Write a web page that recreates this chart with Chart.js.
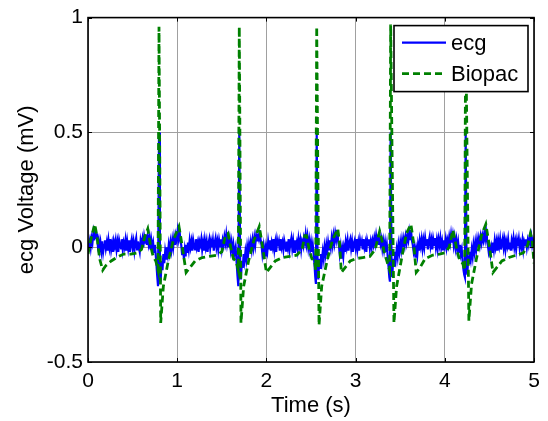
<!DOCTYPE html>
<html><head><meta charset="utf-8">
<script src="https://cdn.jsdelivr.net/npm/chart.js@4/dist/chart.umd.min.js"></script>
<style>html,body{margin:0;padding:0;background:#fff}#wrap{width:548px;height:421px}</style>
</head><body><div id="wrap"><canvas id="c" width="548" height="421"></canvas></div>
<script>
const xTicks = [0, 1, 2, 3, 4, 5];
const yTicks = [-0.5, 0, 0.5, 1];
const seriesLabels = ['ecg', 'Biopac'];
const xTitle = 'Time (s)';
const yTitle = 'ecg Voltage (mV)';

// ecg series [time s, mV]
const ecgData = [
[0.00,-0.01],[0.01,0.01],[0.02,0.03],[0.03,0.0],[0.04,0.04],[0.05,0.02],[0.06,0.06],[0.07,0.03],[0.08,0.085],[0.09,0.04],[0.10,0.06],[0.11,0.01],[0.12,0.03],
[0.13,-0.01],[0.14,0.02],[0.15,-0.015],[0.16,0.025],[0.17,-0.02],[0.18,0.01],[0.19,0.03],[0.20,-0.005],[0.21,0.02],[0.22,-0.015],
[0.23,0.03],[0.24,0.0],[0.25,0.035],[0.26,-0.01],[0.27,0.015],[0.28,-0.02],[0.29,0.025],[0.30,0.005],[0.31,0.03],[0.32,-0.01],
[0.33,0.02],[0.34,-0.02],[0.35,0.03],[0.36,0.01],[0.37,-0.005],[0.38,0.035],[0.39,-0.01],[0.40,0.02],[0.41,0.0],[0.42,0.03],
[0.43,-0.015],[0.44,0.025],[0.45,-0.005],[0.46,0.03],[0.47,-0.02],[0.48,0.015],[0.49,0.035],[0.50,0.0],[0.51,0.025],[0.52,-0.015],
[0.53,0.02],[0.54,0.04],[0.55,-0.01],[0.56,0.025],[0.57,0.0],[0.58,-0.02],[0.59,0.03],[0.60,0.01],[0.61,0.035],[0.62,0.0],
[0.63,0.045],[0.64,0.02],[0.65,0.055],[0.66,0.01],[0.67,0.05],[0.68,0.015],[0.69,0.04],[0.70,-0.01],[0.71,0.03],[0.72,0.0],
[0.73,0.02],[0.74,-0.02],[0.75,0.01],
[0.765,-0.06],[0.775,-0.12],[0.785,-0.17],[0.796,0.50],[0.806,-0.10],[0.814,-0.15],[0.825,-0.06],[0.835,-0.10],[0.845,-0.03],[0.855,-0.07],
[0.865,-0.02],[0.875,-0.05],[0.885,0.0],[0.895,-0.03],[0.905,0.01],[0.915,-0.02],[0.925,0.02],[0.935,-0.01],[0.945,0.03],[0.955,0.0],
[0.965,0.04],[0.975,0.01],[0.985,0.05],[0.995,0.03],[1.005,0.07],[1.015,0.04],[1.025,0.08],[1.035,0.03],[1.045,0.01],[1.055,-0.03],
[1.065,0.0],[1.075,-0.05],[1.085,-0.01],[1.095,-0.04],
[1.10,0.01],[1.11,-0.02],[1.12,0.02],[1.13,-0.01],[1.14,0.03],[1.15,0.0],[1.16,0.025],[1.17,-0.015],[1.18,0.03],[1.19,0.005],
[1.20,-0.01],[1.21,0.035],[1.22,0.0],[1.23,0.02],[1.24,-0.02],[1.25,0.025],[1.26,0.01],[1.27,0.035],[1.28,-0.01],[1.29,0.02],
[1.30,-0.015],[1.31,0.03],[1.32,0.0],[1.33,0.025],[1.34,-0.02],[1.35,0.015],[1.36,0.035],[1.37,-0.005],[1.38,0.025],[1.39,0.0],
[1.40,0.03],[1.41,-0.015],[1.42,0.02],[1.43,0.04],[1.44,0.0],[1.45,0.025],[1.46,-0.01],[1.47,0.03],[1.48,0.005],[1.49,0.035],
[1.50,-0.005],[1.51,0.03],[1.52,0.01],[1.53,0.045],[1.54,0.02],[1.55,0.055],[1.56,0.015],[1.57,0.04],[1.58,0.0],[1.59,0.03],
[1.60,-0.01],[1.61,0.02],[1.62,-0.02],[1.63,0.01],[1.64,-0.03],
[1.655,0.0],[1.665,-0.06],[1.675,-0.12],[1.685,-0.17],[1.696,0.50],[1.706,-0.10],[1.714,-0.14],[1.725,-0.06],[1.735,-0.09],[1.745,-0.03],
[1.755,-0.06],[1.765,-0.02],[1.775,-0.05],[1.785,0.0],[1.795,-0.03],[1.805,0.01],[1.815,-0.02],[1.825,0.02],[1.835,-0.01],[1.845,0.03],
[1.855,0.0],[1.865,0.04],[1.875,0.01],[1.885,0.05],[1.895,0.03],[1.905,0.06],[1.915,0.04],[1.925,0.075],[1.935,0.03],[1.945,0.01],
[1.955,-0.03],[1.965,0.0],[1.975,-0.05],[1.985,-0.01],[1.995,-0.04],
[2.00,0.0],[2.01,-0.02],[2.02,0.025],[2.03,-0.005],[2.04,0.03],[2.05,-0.015],[2.06,0.02],[2.07,0.0],[2.08,0.035],[2.09,-0.01],
[2.10,0.02],[2.11,-0.02],[2.12,0.03],[2.13,0.005],[2.14,0.025],[2.15,-0.015],[2.16,0.035],[2.17,0.0],[2.18,0.02],[2.19,-0.01],
[2.20,0.03],[2.21,0.01],[2.22,-0.015],[2.23,0.025],[2.24,0.0],[2.25,0.035],[2.26,-0.01],[2.27,0.02],[2.28,0.04],[2.29,-0.005],
[2.30,0.025],[2.31,-0.02],[2.32,0.03],[2.33,0.0],[2.34,0.02],[2.35,-0.01],[2.36,0.035],[2.37,0.005],[2.38,0.03],[2.39,-0.01],
[2.40,0.025],[2.41,0.01],[2.42,0.04],[2.43,0.02],[2.44,0.055],[2.45,0.015],[2.46,0.045],[2.47,0.0],[2.48,0.03],[2.49,-0.01],
[2.50,0.02],[2.51,-0.02],[2.52,0.01],
[2.53,-0.03],[2.54,-0.08],[2.548,-0.13],[2.555,-0.16],[2.564,0.50],[2.574,-0.09],[2.582,-0.14],[2.592,-0.05],[2.602,-0.09],[2.612,-0.03],
[2.622,-0.06],[2.632,-0.02],[2.642,-0.05],[2.652,0.0],[2.662,-0.03],[2.672,0.01],[2.682,-0.02],[2.692,0.02],[2.702,-0.01],[2.712,0.03],
[2.722,0.0],[2.732,0.04],[2.742,0.01],[2.752,0.05],[2.762,0.02],[2.772,0.06],[2.782,0.035],[2.792,0.075],[2.802,0.03],[2.812,0.01],
[2.822,-0.03],[2.832,0.0],[2.842,-0.05],[2.852,-0.01],[2.862,-0.04],
[2.87,0.0],[2.88,-0.02],[2.89,0.025],[2.90,0.0],[2.91,0.03],[2.92,-0.015],[2.93,0.02],[2.94,0.035],[2.95,-0.005],[2.96,0.025],
[2.97,-0.02],[2.98,0.015],[2.99,0.03],[3.00,0.0],[3.01,0.035],[3.02,-0.01],[3.03,0.02],[3.04,-0.015],[3.05,0.03],[3.06,0.005],
[3.07,0.025],[3.08,-0.01],[3.09,0.035],[3.10,0.0],[3.11,0.02],[3.12,-0.02],[3.13,0.03],[3.14,0.01],[3.15,0.035],[3.16,-0.005],
[3.17,0.025],[3.18,0.0],[3.19,0.03],[3.20,0.01],[3.21,0.04],[3.22,0.015],[3.23,0.05],[3.24,0.02],[3.25,0.055],[3.26,0.01],
[3.27,0.05],[3.28,0.015],[3.29,0.035],[3.30,-0.005],[3.31,0.025],[3.32,-0.01],[3.33,0.02],[3.34,-0.02],[3.35,0.01],
[3.36,-0.04],[3.37,-0.09],[3.378,-0.13],[3.385,-0.15],[3.393,0.50],[3.403,-0.09],[3.411,-0.13],[3.421,-0.05],[3.431,-0.08],[3.441,-0.02],
[3.451,-0.05],[3.461,-0.01],[3.471,-0.04],[3.481,0.01],[3.491,-0.02],[3.501,0.02],[3.511,-0.01],[3.521,0.03],[3.531,0.0],[3.541,0.035],
[3.551,0.01],[3.561,0.045],[3.571,0.02],[3.581,0.05],[3.591,0.03],[3.601,0.065],[3.611,0.035],[3.621,0.075],[3.631,0.03],[3.641,0.01],
[3.651,-0.02],[3.661,0.0],[3.671,-0.045],[3.681,-0.01],[3.691,-0.035],
[3.70,0.01],[3.71,-0.015],[3.72,0.03],[3.73,0.005],[3.74,0.035],[3.75,-0.005],[3.76,0.03],[3.77,0.0],[3.78,0.04],[3.79,0.01],
[3.80,0.035],[3.81,-0.01],[3.82,0.025],[3.83,0.045],[3.84,0.005],[3.85,0.03],[3.86,-0.01],[3.87,0.035],[3.88,0.01],[3.89,0.04],
[3.90,0.0],[3.91,0.03],[3.92,-0.005],[3.93,0.035],[3.94,0.01],[3.95,0.04],[3.96,0.0],[3.97,0.025],[3.98,-0.01],[3.99,0.03],
[4.00,0.005],[4.01,0.035],[4.02,0.0],[4.03,0.03],[4.04,0.01],[4.05,0.045],[4.06,0.02],[4.07,0.055],[4.08,0.02],[4.09,0.05],
[4.10,0.01],[4.11,0.04],[4.12,0.0],[4.13,0.03],[4.14,-0.01],[4.15,0.02],[4.16,-0.02],[4.17,0.01],[4.18,-0.03],
[4.19,-0.01],[4.20,-0.06],[4.21,-0.10],[4.218,-0.12],[4.225,-0.13],[4.234,0.50],[4.244,-0.08],[4.252,-0.12],[4.262,-0.05],[4.272,-0.07],
[4.282,-0.02],[4.292,-0.05],[4.302,-0.01],[4.312,-0.04],[4.322,0.01],[4.332,-0.02],[4.342,0.02],[4.352,-0.01],[4.362,0.03],[4.372,0.0],
[4.382,0.035],[4.392,0.01],[4.402,0.045],[4.412,0.02],[4.422,0.05],[4.432,0.03],[4.442,0.06],[4.452,0.035],[4.462,0.07],[4.472,0.03],
[4.482,0.01],[4.492,-0.02],[4.502,0.0],[4.512,-0.03],[4.522,0.0],
[4.53,-0.02],[4.54,0.02],[4.55,-0.01],[4.56,0.03],[4.57,0.0],[4.58,0.025],[4.59,-0.015],[4.60,0.03],[4.61,0.005],[4.62,0.035],
[4.63,-0.01],[4.64,0.02],[4.65,0.04],[4.66,0.0],[4.67,0.03],[4.68,-0.01],[4.69,0.025],[4.70,0.005],[4.71,0.035],[4.72,-0.005],
[4.73,0.02],[4.74,-0.015],[4.75,0.03],[4.76,0.01],[4.77,0.04],[4.78,0.0],[4.79,0.025],[4.80,-0.01],[4.81,0.03],[4.82,0.005],
[4.83,0.035],[4.84,-0.005],[4.85,0.02],[4.86,0.0],[4.87,0.03],[4.88,-0.01],[4.89,0.025],[4.90,0.01],[4.91,0.035],[4.92,0.0],
[4.93,0.03],[4.94,0.01],[4.95,0.04],[4.96,0.02],[4.97,0.045],[4.98,0.01],[4.99,0.03],[5.00,0.015]
];

// Biopac series [time s, mV]
const biopacData = [
[0.00,-0.03],[0.03,0.03],[0.075,0.10],[0.10,0.05],[0.13,-0.05],[0.165,-0.10],[0.20,-0.08],[0.26,-0.06],[0.32,-0.045],[0.40,-0.03],
[0.48,-0.03],[0.55,-0.025],[0.60,-0.01],[0.64,0.05],[0.67,0.08],[0.70,0.01],[0.73,-0.04],[0.76,-0.06],[0.785,-0.10],[0.796,0.96],
[0.815,-0.33],[0.845,-0.17],[0.90,-0.06],[0.956,0.03],[1.02,0.09],[1.05,0.02],[1.10,-0.11],[1.14,-0.09],[1.20,-0.06],[1.28,-0.045],
[1.36,-0.04],[1.44,-0.035],[1.50,-0.02],[1.54,0.05],[1.57,0.06],[1.60,0.0],[1.63,-0.05],[1.66,-0.06],[1.685,-0.10],[1.696,0.96],
[1.715,-0.33],[1.745,-0.17],[1.80,-0.06],[1.86,0.03],[1.92,0.09],[1.95,0.02],[2.00,-0.11],[2.04,-0.09],[2.10,-0.06],[2.18,-0.045],
[2.26,-0.04],[2.34,-0.035],[2.40,-0.01],[2.43,0.05],[2.45,0.05],[2.48,-0.01],[2.51,-0.05],[2.54,-0.06],[2.553,-0.10],[2.564,0.96],
[2.59,-0.34],[2.62,-0.17],[2.68,-0.06],[2.74,0.03],[2.80,0.08],[2.82,0.02],[2.84,-0.11],[2.88,-0.09],[2.94,-0.06],[3.00,-0.05],
[3.08,-0.045],[3.16,-0.04],[3.22,-0.01],[3.27,0.07],[3.29,0.04],[3.32,-0.02],[3.35,-0.06],[3.382,-0.10],[3.393,0.97],[3.43,-0.33],
[3.46,-0.17],[3.52,-0.04],[3.57,0.06],[3.62,0.10],[3.65,0.02],[3.68,-0.11],[3.72,-0.09],[3.78,-0.05],[3.86,-0.035],[3.94,-0.03],
[4.00,-0.025],[4.05,0.0],[4.09,0.075],[4.11,0.04],[4.14,-0.02],[4.17,-0.06],[4.20,-0.07],[4.223,-0.10],[4.234,0.96],[4.27,-0.32],
[4.30,-0.16],[4.36,-0.04],[4.41,0.05],[4.46,0.10],[4.49,0.03],[4.54,-0.11],[4.58,-0.09],[4.64,-0.06],[4.72,-0.045],[4.80,-0.035],
[4.88,-0.025],[4.93,0.01],[4.96,0.06],[4.98,0.03],[5.00,-0.07]
];

const FONT = '"Liberation Sans", Arial, Helvetica, sans-serif';
Chart.defaults.font.family = FONT;
Chart.defaults.color = '#000';

const frame = {
  id: 'frame',
  afterDraw(chart) {
    const ctx = chart.ctx, a = chart.chartArea;
    const xs = chart.scales.x, ys = chart.scales.y;
    ctx.save();
    ctx.strokeStyle = '#000';
    ctx.lineWidth = 1;
    ctx.beginPath();
    xTicks.forEach(v => {
      const px = Math.round(xs.getPixelForValue(v)) + 0.5;
      ctx.moveTo(px, a.bottom); ctx.lineTo(px, a.bottom - 4);
      ctx.moveTo(px, a.top); ctx.lineTo(px, a.top + 4);
    });
    yTicks.forEach(v => {
      const py = Math.round(ys.getPixelForValue(v)) + 0.5;
      ctx.moveTo(a.left, py); ctx.lineTo(a.left + 4, py);
      ctx.moveTo(a.right, py); ctx.lineTo(a.right - 4, py);
    });
    ctx.stroke();
    ctx.lineWidth = 1.6;
    ctx.strokeRect(a.left, a.top, a.right - a.left, a.bottom - a.top);
    // legend
    const w = 134, h = 66, x = a.right - 6 - w, y = a.top + 8;
    ctx.fillStyle = '#fff';
    ctx.fillRect(x, y, w, h);
    ctx.lineWidth = 1.6;
    ctx.strokeRect(x, y, w, h);
    chart.data.datasets.forEach((ds, i) => {
      const cy = y + 17 + i * 31;
      ctx.beginPath();
      ctx.setLineDash(ds.borderDash || []);
      ctx.strokeStyle = ds.borderColor;
      ctx.lineWidth = ds.borderWidth;
      ctx.moveTo(x + 8, cy); ctx.lineTo(x + 52, cy);
      ctx.stroke();
      ctx.setLineDash([]);
      ctx.fillStyle = '#000';
      ctx.font = '22px ' + FONT;
      ctx.textBaseline = 'middle';
      ctx.textAlign = 'left';
      ctx.fillText(ds.label, x + 57, cy + 1);
    });
    ctx.restore();
  }
};

const fmt = v => String(v);

new Chart(document.getElementById('c'), {
  type: 'line',
  data: {
    datasets: [
      { label: seriesLabels[0], data: ecgData.map(p => ({x: p[0], y: p[1]})),
        borderColor: '#0000ff', borderWidth: 2.2, pointRadius: 0, tension: 0, order: 2, fill: false },
      { label: seriesLabels[1], data: biopacData.map(p => ({x: p[0], y: p[1]})),
        borderColor: '#008000', borderWidth: 2.8, borderDash: [7, 4], pointRadius: 0, tension: 0, order: 1, fill: false }
    ]
  },
  options: {
    responsive: false,
    animation: false,
    layout: { padding: { left: 0, right: 14, top: 15, bottom: 0 } },
    plugins: { legend: { display: false }, tooltip: { enabled: false } },
    scales: {
      x: {
        type: 'linear', min: xTicks[0], max: xTicks[xTicks.length - 1],
        afterBuildTicks: s => { s.ticks = xTicks.map(v => ({value: v})); },
        afterFit: s => { s.height = 59; },
        grid: { color: '#a0a0a0', lineWidth: 1, drawTicks: false },
        border: { display: false },
        ticks: { font: { size: 21 }, padding: 7, color: '#000', maxRotation: 0, callback: fmt },
        title: { display: true, text: xTitle, font: { size: 22 }, color: '#000', padding: { top: 0, bottom: 2 } }
      },
      y: {
        type: 'linear', min: yTicks[0], max: yTicks[yTicks.length - 1],
        afterBuildTicks: s => { s.ticks = yTicks.map(v => ({value: v})); },
        afterFit: s => { s.width = 88; },
        grid: { color: '#a0a0a0', lineWidth: 1, drawTicks: false },
        border: { display: false },
        ticks: { font: { size: 21 }, padding: 5, color: '#000', callback: fmt },
        title: { display: true, text: yTitle, font: { size: 22 }, color: '#000', padding: { top: 14, bottom: 0 } }
      }
    }
  },
  plugins: [frame]
});
</script>
</body></html>
